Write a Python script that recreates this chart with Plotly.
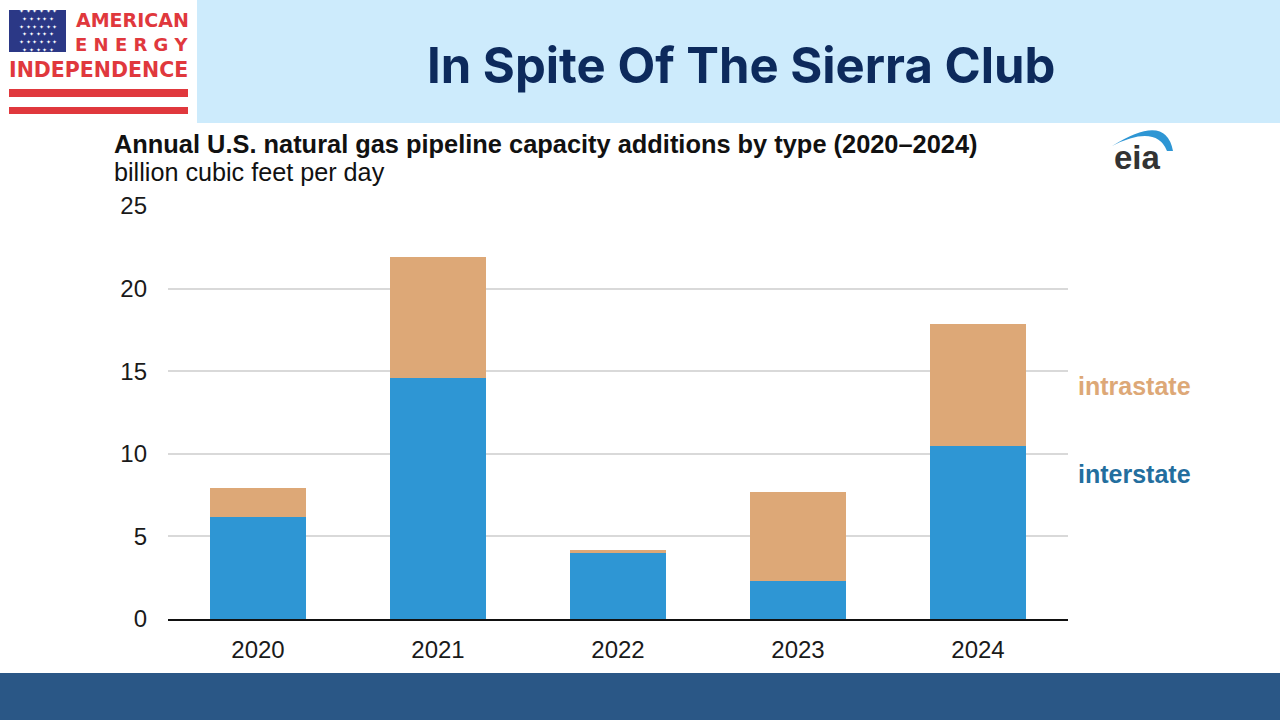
import plotly.graph_objects as go

years = ["2020", "2021", "2022", "2023", "2024"]
interstate = [6.2, 14.6, 4.0, 2.3, 10.5]
intrastate = [1.7, 7.3, 0.15, 5.4, 7.35]
y_ticks = [0, 5, 10, 15, 20, 25]

W, H = 1280, 720


# page pixel -> paper coords (margins are zero, so paper == figure)
def px(x):
    return x / W


def py(y):
    return 1 - y / H


blue = "#2E96D4"
tan = "#DDA877"
red = "#E0383D"

fig = go.Figure()
fig.add_trace(go.Bar(x=years, y=interstate, name="interstate",
                     marker=dict(color=blue, line=dict(width=0))))
fig.add_trace(go.Bar(x=years, y=intrastate, name="intrastate",
                     marker=dict(color=tan, line=dict(width=0))))

fig.update_layout(
    width=W, height=H,
    barmode="stack", bargap=0.466,
    showlegend=False,
    plot_bgcolor="white", paper_bgcolor="white",
    margin=dict(l=0, r=0, t=0, b=0),
    font=dict(family="Liberation Sans, Arial", color="#1a1a1a"),
    xaxis=dict(domain=[px(168), px(1068)], showgrid=False,
               showline=True, linecolor="#111111", linewidth=2,
               ticks="", tickfont=dict(size=24), ticklabelstandoff=8,
               fixedrange=True, automargin=False),
    yaxis=dict(domain=[py(619), py(206)], range=[0, 25],
               tickvals=y_ticks, showgrid=True, gridcolor="#D9D9D9",
               gridwidth=2, zeroline=False, showline=False, ticks="",
               tickfont=dict(size=24), ticklabelstandoff=20,
               fixedrange=True, automargin=False),
)


def rect(x0, y0, x1, y1, color, layer="above"):
    return dict(type="rect", xref="paper", yref="paper",
                x0=px(x0), x1=px(x1), y0=py(y1), y1=py(y0),
                fillcolor=color, line=dict(width=0), layer=layer)


swoosh = [(1112, 146), (1166, 112), (1173, 151), (1167, 151), (1156, 124), (1112, 146)]
sp = [(px(a), py(b)) for a, b in swoosh]

shapes = [
    rect(197, -20, 1300, 123, "#CDEBFC", layer="below"),   # header band
    rect(-20, 673, 1300, 760, "#2A5786"),                  # footer band
    rect(9, 10, 66, 52, "#2B3886"),                        # flag canton
    rect(9, 89, 188, 97, red),
    rect(9, 107, 188, 114, red),
    dict(type="path", xref="paper", yref="paper",
         path="M %f %f Q %f %f %f %f L %f %f Q %f %f %f %f Z" % (
             sp[0] + sp[1] + sp[2] + sp[3] + sp[4] + sp[5]),
         fillcolor="#2E96D4", line=dict(width=0)),
]

stars = "<br>".join(["✦ ✦ ✦ ✦ ✦ ✦", " ✦ ✦ ✦ ✦ ✦ "] * 3)


def label(text, x, y, size, color, family=None, anchor="center"):
    f = dict(size=size, color=color)
    if family:
        f["family"] = family
    return dict(text=text, x=px(x), y=py(y), xref="paper", yref="paper",
                xanchor=anchor, yanchor="middle", showarrow=False, font=f)


annotations = [
    label("<b>In Spite Of The Sierra Club</b>", 741, 65, 49, "#0D2A5C", "Inter"),
    label("<b>AMERICAN</b>", 132, 20, 19, red, "DejaVu Sans"),
    label("<b>E N E R G Y</b>", 132, 44, 18, red, "DejaVu Sans"),
    label("<b>INDEPENDENCE</b>", 98.5, 70, 20.5, red, "DejaVu Sans"),
    dict(text=stars, x=px(37.5), y=py(31), xref="paper", yref="paper",
         xanchor="center", yanchor="middle", showarrow=False,
         font=dict(size=6, color="white")),
    label("<b>Annual U.S. natural gas pipeline capacity additions by type (2020–2024)</b>",
          112, 144, 25.4, "#111111", anchor="left"),
    label("billion cubic feet per day", 112, 172, 25.2, "#111111", anchor="left"),
    label("<b>eia</b>", 1137, 157, 33, "#333333"),
    label("<b>intrastate</b>", 1076, 386, 25, tan, anchor="left"),
    label("<b>interstate</b>", 1076, 474, 25, "#236E9E", anchor="left"),
]

fig.update_layout(shapes=shapes, annotations=annotations)

fig.write_html("out.html", config={"displayModeBar": False},
               post_script="document.body.style.margin = '0px';")
